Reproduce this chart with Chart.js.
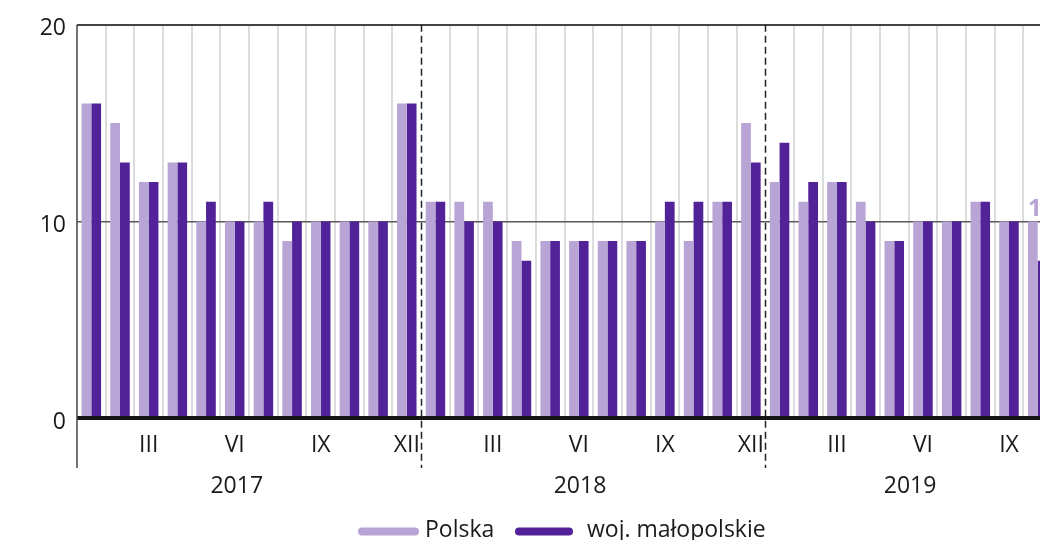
<!DOCTYPE html>
<html>
<head>
<meta charset="utf-8">
<script src="https://cdn.jsdelivr.net/npm/chart.js@4/dist/chart.umd.min.js"></script>
<style>
  html, body { margin: 0; padding: 0; background: #fff; overflow: hidden; }
  #wrap { width: 1040px; height: 540px; overflow: hidden; }
</style>
</head>
<body>
<div id="wrap"><canvas id="chart" width="1100" height="540"></canvas></div>
<script>
const years = ['2017', '2018', '2019'];
const months = ['I', 'II', 'III', 'IV', 'V', 'VI', 'VII', 'VIII', 'IX', 'X', 'XI', 'XII'];
const monthsPerYear = [12, 12, 10];

const polska = [
  16, 15, 12, 13, 10, 10, 10, 9, 10, 10, 10, 16,
  11, 11, 11, 9, 9, 9, 9, 9, 10, 9, 11, 15,
  12, 11, 12, 11, 9, 10, 10, 11, 10, 10
];
const malopolskie = [
  16, 13, 12, 13, 11, 10, 11, 10, 10, 10, 10, 16,
  11, 10, 10, 8, 9, 9, 9, 9, 11, 11, 11, 13,
  14, 12, 12, 10, 9, 10, 10, 11, 10, 8
];

const LIGHT = '#b8a5d6';
const DARK = '#522398';
const FONT = '"Open Sans", "Noto Sans", sans-serif';

// category labels: month + year
const labels = [];
years.forEach((y, yi) => {
  for (let m = 0; m < monthsPerYear[yi]; m++) labels.push(months[m] + ' ' + y);
});
const yearEnds = [12, 24]; // index where a new year starts

const extras = {
  id: 'extras',
  afterDatasetsDraw(chart) {
    const { ctx, chartArea, scales } = chart;
    const x = scales.x;
    const bottomLine = 468;
    ctx.save();

    // zero line
    ctx.strokeStyle = '#151515';
    ctx.lineWidth = 4;
    ctx.beginPath();
    ctx.moveTo(chartArea.left, chartArea.bottom);
    ctx.lineTo(chartArea.right, chartArea.bottom);
    ctx.stroke();

    // left axis
    ctx.strokeStyle = '#444';
    ctx.lineWidth = 1.5;
    ctx.beginPath();
    ctx.moveTo(chartArea.left, chartArea.top);
    ctx.lineTo(chartArea.left, bottomLine);
    ctx.stroke();

    // dashed year separators
    ctx.strokeStyle = '#222';
    ctx.lineWidth = 1.5;
    ctx.setLineDash([7, 4]);
    yearEnds.forEach(i => {
      const px = Math.round((x.getPixelForValue(i - 1) + x.getPixelForValue(i)) / 2) + 0.5;
      ctx.beginPath();
      ctx.moveTo(px, chartArea.top);
      ctx.lineTo(px, bottomLine);
      ctx.stroke();
    });
    ctx.setLineDash([]);

    // year labels
    ctx.fillStyle = '#1a1a1a';
    ctx.font = '23px ' + FONT;
    ctx.textAlign = 'center';
    ctx.textBaseline = 'middle';
    [5.07, 17.04, 28.55].forEach((v, i) => {
      ctx.fillText(years[i], x.getPixelForValue(v), 486);
    });

    // value label on last Polska bar
    const meta = chart.getDatasetMeta(0);
    const last = meta.data[meta.data.length - 1];
    ctx.fillStyle = LIGHT;
    ctx.font = 'bold 24px ' + FONT;
    ctx.textAlign = 'left';
    ctx.textBaseline = 'alphabetic';
    ctx.fillText(String(polska[polska.length - 1]), last.x - last.width / 2, last.y - 5);

    // legend
    ctx.lineCap = 'round';
    ctx.lineWidth = 8;
    const legendY = 531.5;
    [[LIGHT, 362, 415, 'Polska', 425], [DARK, 519, 569, 'woj. małopolskie', 587]].forEach(it => {
      ctx.strokeStyle = it[0];
      ctx.beginPath();
      ctx.moveTo(it[1], legendY);
      ctx.lineTo(it[2], legendY);
      ctx.stroke();
      ctx.fillStyle = '#1a1a1a';
      ctx.font = '23px ' + FONT;
      ctx.fillText(it[3], it[4], 537);
    });
    ctx.restore();
  }
};

new Chart(document.getElementById('chart'), {
  type: 'bar',
  data: {
    labels: labels,
    datasets: [
      { label: 'Polska', data: polska, backgroundColor: LIGHT },
      { label: 'woj. małopolskie', data: malopolskie, backgroundColor: DARK }
    ]
  },
  options: {
    responsive: false,
    animation: false,
    devicePixelRatio: 1,
    layout: { padding: { top: 23, right: 48, left: 0, bottom: 0 } },
    datasets: { bar: { categoryPercentage: 0.68, barPercentage: 1 } },
    plugins: { legend: { display: false }, tooltip: { enabled: false } },
    scales: {
      x: {
        offset: true,
        border: { display: false },
        grid: {
          drawTicks: false,
          lineWidth: 2,
          color: ctx => (ctx.index === 0 || yearEnds.includes(ctx.index)) ? 'rgba(0,0,0,0)' : '#dcdcdc'
        },
        ticks: {
          autoSkip: false,
          maxRotation: 0,
          padding: 14,
          color: '#1a1a1a',
          font: { family: FONT, size: 23 },
          callback: (v, i) => ((i % 12) + 1) % 3 === 0 ? months[i % 12] : ''
        },
        afterFit: s => { s.height = 122; }
      },
      y: {
        min: 0,
        max: 20,
        border: { display: false },
        grid: {
          drawTicks: false,
          color: ctx => ctx.tick.value === 0 ? 'rgba(0,0,0,0)' : (ctx.tick.value === 20 ? '#444' : '#5a5a5a'),
          lineWidth: ctx => ctx.tick.value === 20 ? 2 : 1.5
        },
        ticks: {
          stepSize: 10,
          padding: 11,
          labelOffset: 4,
          color: '#1a1a1a',
          font: { family: FONT, size: 23 }
        },
        afterFit: s => { s.width = 77; }
      }
    }
  },
  plugins: [extras]
});
</script>
</body>
</html>
